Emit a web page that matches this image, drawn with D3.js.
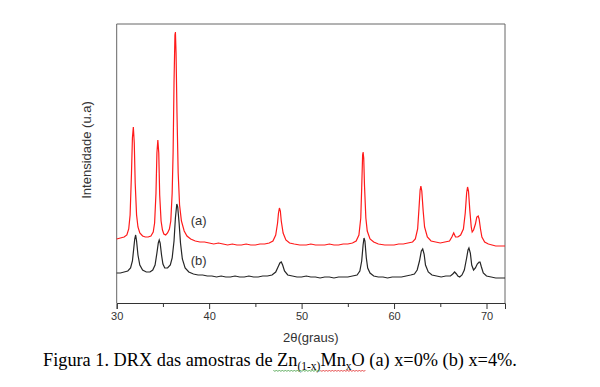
<!DOCTYPE html>
<html>
<head>
<meta charset="utf-8">
<script src="https://cdn.jsdelivr.net/npm/d3@7"></script>
<style>
  body { margin: 0; background: #fff; }
  svg { display: block; }
  .tick-label { font-family: Arial, "Liberation Sans", sans-serif; font-size: 11px; fill: #333; }
  .axis-title { font-family: Arial, "Liberation Sans", sans-serif; font-size: 13px; fill: #333; }
  .caption { font-family: "Liberation Serif", "Times New Roman", serif; font-size: 18.3px; fill: #000; }
</style>
</head>
<body>
<div id="chart"></div>
<script>
// ---- size of the page
const w = 600;
const h = 387;

// ---- plot box
const pLeft = 116.7;
const pRight = 505;
const pTop = 24;
const pBottom = 303;

// ---- data: [2theta, intensity (a.u.)]
const seriesA = [
  [30.0, 64], [30.4, 65], [30.8, 66], [31.1, 68], [31.3, 74], [31.45, 88], [31.6, 130], [31.7, 165],
  [31.8, 176], [31.9, 160], [32.0, 120], [32.15, 88], [32.3, 76], [32.5, 70], [32.8, 67], [33.1, 66],
  [33.4, 66], [33.7, 67], [33.95, 71], [34.1, 80], [34.25, 110], [34.35, 150], [34.45, 163], [34.55, 150],
  [34.65, 108], [34.8, 82], [34.95, 73], [35.1, 69], [35.3, 68], [35.5, 70], [35.7, 74], [35.85, 82],
  [36.0, 110], [36.1, 150], [36.2, 220], [36.3, 268], [36.35, 271], [36.42, 250], [36.52, 190], [36.65, 130],
  [36.8, 98], [37.0, 82], [37.3, 72], [37.6, 67], [38.0, 64], [38.5, 62], [39.0, 61], [39.5, 61],
  [40.0, 60], [40.5, 59], [41.0, 60], [41.5, 59], [42.0, 58], [42.5, 59], [43.0, 58], [43.5, 58],
  [44.0, 59], [44.5, 58], [45.0, 58], [45.5, 59], [46.0, 59], [46.5, 60], [46.9, 62], [47.2, 68],
  [47.4, 80], [47.5, 90], [47.6, 95], [47.7, 92], [47.8, 82], [48.0, 70], [48.3, 63], [48.7, 60],
  [49.2, 59], [49.8, 58], [50.5, 58], [51.0, 59], [51.5, 58], [52.0, 58], [52.5, 58], [53.0, 59],
  [53.5, 58], [54.0, 58], [54.5, 59], [55.0, 59], [55.5, 60], [55.9, 62], [56.2, 68], [56.4, 85],
  [56.5, 115], [56.6, 148], [56.65, 151], [56.72, 145], [56.8, 118], [56.95, 85], [57.1, 72], [57.4, 64],
  [57.8, 61], [58.3, 59], [59.0, 58], [59.5, 58], [60.0, 58], [60.5, 59], [61.0, 59], [61.5, 60],
  [62.0, 61], [62.3, 64], [62.55, 74], [62.7, 95], [62.82, 113], [62.9, 117], [63.0, 112], [63.15, 92],
  [63.3, 76], [63.6, 66], [64.0, 62], [64.5, 61], [65.0, 60], [65.5, 61], [66.0, 62], [66.25, 66],
  [66.45, 70], [66.65, 66], [66.9, 66], [67.2, 68], [67.5, 74], [67.7, 90], [67.85, 110], [67.95, 116],
  [68.05, 112], [68.2, 92], [68.35, 76], [68.45, 71], [68.6, 73], [68.8, 79], [68.95, 86], [69.1, 87],
  [69.2, 84], [69.35, 74], [69.5, 66], [69.8, 61], [70.2, 59], [70.6, 58], [71.0, 57], [71.5, 57], [72.0, 57]
];

const seriesB = [
  [30.0, 30], [30.4, 30], [30.8, 31], [31.2, 32], [31.5, 35], [31.7, 42], [31.85, 55], [31.95, 64],
  [32.05, 68], [32.15, 62], [32.3, 48], [32.5, 38], [32.8, 33], [33.2, 31], [33.6, 31], [33.9, 33],
  [34.15, 38], [34.35, 50], [34.5, 60], [34.6, 63], [34.7, 60], [34.85, 48], [35.0, 39], [35.2, 35],
  [35.5, 35], [35.8, 38], [36.0, 45], [36.2, 62], [36.35, 85], [36.5, 99], [36.6, 96], [36.75, 80],
  [36.9, 60], [37.1, 44], [37.4, 35], [37.8, 31], [38.3, 29], [38.8, 28], [39.3, 28], [39.8, 27],
  [40.3, 27], [40.8, 26], [41.3, 27], [41.8, 26], [42.3, 26], [42.8, 27], [43.3, 26], [43.8, 26],
  [44.3, 27], [44.8, 26], [45.3, 26], [45.8, 27], [46.3, 27], [46.8, 28], [47.2, 31], [47.45, 36],
  [47.65, 40], [47.8, 41], [47.95, 38], [48.15, 32], [48.5, 28], [49.0, 27], [49.5, 26], [50.0, 26],
  [50.5, 27], [51.0, 26], [51.5, 26], [52.0, 25], [52.5, 26], [53.0, 26], [53.5, 25], [54.0, 26],
  [54.5, 26], [55.0, 26], [55.5, 27], [56.0, 28], [56.3, 32], [56.5, 42], [56.65, 58], [56.75, 65],
  [56.85, 62], [57.0, 45], [57.15, 35], [57.4, 30], [57.8, 27], [58.3, 26], [58.8, 26], [59.3, 25],
  [59.8, 26], [60.3, 26], [60.8, 26], [61.3, 27], [61.8, 28], [62.2, 29], [62.5, 33], [62.75, 42],
  [62.95, 52], [63.1, 54], [63.25, 49], [63.4, 38], [63.7, 31], [64.1, 28], [64.6, 27], [65.1, 26],
  [65.6, 27], [66.1, 27], [66.35, 29], [66.55, 31], [66.75, 29], [66.9, 27], [67.1, 26], [67.35, 28],
  [67.6, 33], [67.85, 45], [68.0, 53], [68.1, 55], [68.25, 50], [68.4, 38], [68.6, 33], [68.8, 35],
  [69.0, 39], [69.2, 41], [69.3, 41], [69.45, 36], [69.65, 30], [70.0, 27], [70.5, 26], [71.0, 25],
  [71.5, 25], [72.0, 25]
];

const majorTicks = [30, 40, 50, 60, 70];
const minorTicks = [35, 45, 55, 65];

const curveLabels = [
  { text: "(a)", x: 38.0, y: 78 },
  { text: "(b)", x: 38.0, y: 38 }
];

// ---- SCALES
const xScale = d3.scaleLinear().domain([30, 72]).range([pLeft, pRight]);
const yScale = d3.scaleLinear().domain([0, 279]).range([pBottom, pTop]);

const line = d3.line()
  .x((d) => xScale(d[0]))
  .y((d) => yScale(d[1]));

// ---- SVG
const svg = d3.select("#chart")
  .append("svg")
  .attr("width", w)
  .attr("height", h);

// frame (top, right, left)
svg.append("path")
  .attr("d", `M${pLeft},${pBottom}V${pTop}H${pRight}V${pBottom}`)
  .attr("fill", "none")
  .attr("stroke", "#666")
  .attr("stroke-width", 1);

// X AXIS with major and minor ticks pointing down
const xAxis = d3.axisBottom(xScale)
  .tickValues(majorTicks)
  .tickSize(6)
  .tickPadding(3)
  .tickFormat(d3.format("d"));

const gx = svg.append("g")
  .attr("transform", `translate(0,${pBottom})`)
  .call(xAxis);
gx.select(".domain").attr("stroke", "#333");
gx.selectAll(".tick line").attr("stroke", "#333");
gx.selectAll(".tick text")
  .attr("class", "tick-label")
  .attr("font-family", null)
  .attr("font-size", null)
  .attr("fill", null);

const xAxisMinor = d3.axisBottom(xScale)
  .tickValues(minorTicks)
  .tickSize(4)
  .tickFormat("");
const gxm = svg.append("g")
  .attr("transform", `translate(0,${pBottom})`)
  .call(xAxisMinor);
gxm.select(".domain").remove();
gxm.selectAll(".tick line").attr("stroke", "#333");

// LINES
svg.append("path")
  .attr("d", line(seriesB))
  .attr("fill", "none")
  .attr("stroke", "#262626")
  .attr("stroke-width", 1.2);

svg.append("path")
  .attr("d", line(seriesA))
  .attr("fill", "none")
  .attr("stroke", "#ff1a1a")
  .attr("stroke-width", 1.2);

// curve labels
svg.selectAll(".curve-label")
  .data(curveLabels)
  .enter()
  .append("text")
  .attr("class", "axis-title")
  .attr("x", (d) => xScale(d.x))
  .attr("y", (d) => yScale(d.y))
  .text((d) => d.text);

// X-LABEL
svg.append("text")
  .attr("class", "axis-title")
  .attr("x", (pLeft + pRight) / 2)
  .attr("y", 342)
  .attr("text-anchor", "middle")
  .text("2θ(graus)");

// Y-LABEL
svg.append("text")
  .attr("class", "axis-title")
  .attr("transform", "translate(91,150) rotate(-90)")
  .attr("text-anchor", "middle")
  .text("Intensidade (u.a)");

// CAPTION
const cap = svg.append("text")
  .attr("class", "caption")
  .attr("x", 43)
  .attr("y", 366);
cap.append("tspan").text("Figura 1. DRX das amostras de Zn");
cap.append("tspan").attr("font-size", "11.5px").attr("dy", 4).text("(1-x)");
cap.append("tspan").attr("dy", -4).text("Mn");
cap.append("tspan").attr("font-size", "11.5px").attr("dy", 4).text("x");
cap.append("tspan").attr("dy", -4).text("O (a) x=0% (b) x=4%.");

// spell-check squiggles under the formula
const tsp = cap.selectAll("tspan").nodes();
function squiggle(x0, x1, color) {
  let d = `M${x0},370`;
  for (let x = x0 + 1.5, k = 1; x <= x1; x += 1.5, k++) {
    d += `L${x},${k % 2 ? 371.5 : 370}`;
  }
  svg.append("path").attr("d", d).attr("fill", "none")
    .attr("stroke", color).attr("stroke-width", 0.8);
}
const bb = (n) => n.getBBox();
const zn0 = bb(tsp[0]).x + bb(tsp[0]).width - 24;
squiggle(zn0, bb(tsp[1]).x + bb(tsp[1]).width, "#3a9a3a");
squiggle(bb(tsp[2]).x, bb(tsp[4]).x + 14, "#e02020");
</script>
</body>
</html>
